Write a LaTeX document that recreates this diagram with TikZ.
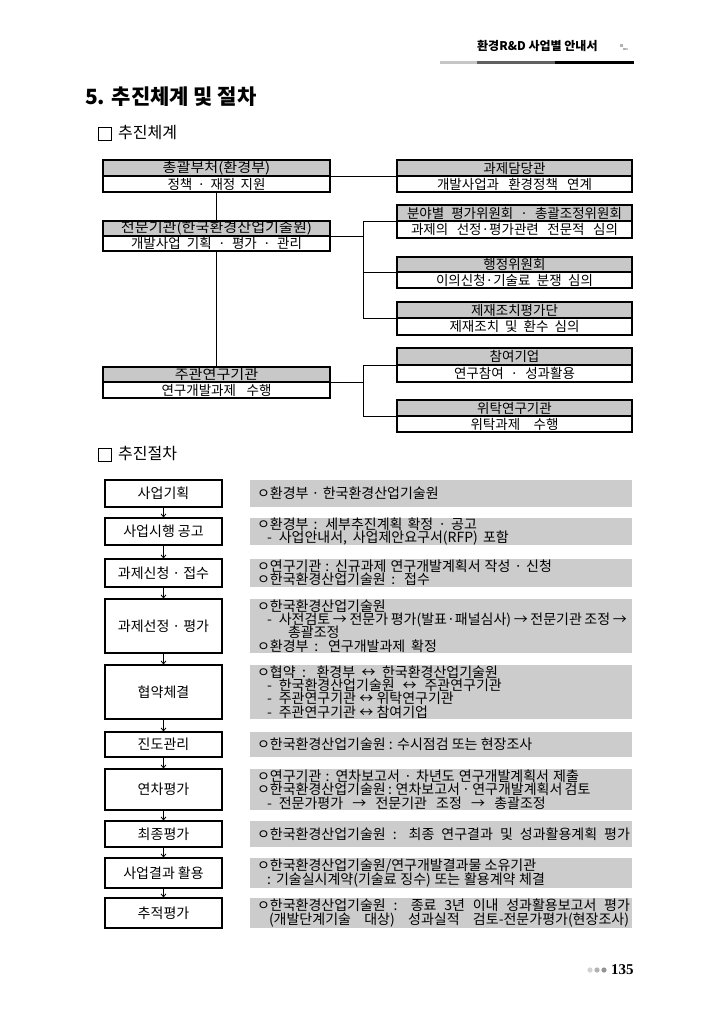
\documentclass[tikz,border=0pt]{standalone}
\usepackage{fontspec}
\usepackage{graphicx}
\setmainfont{Noto Sans CJK KR}
\newfontfamily\kr{Noto Sans CJK KR}
\newfontfamily\pnumfont{Liberation Serif}
\usetikzlibrary{arrows.meta}
\definecolor{boxgray}{RGB}{200,200,200}
\definecolor{procgray}{RGB}{204,204,204}
\newcommand\myd{\hspace*{10pt}-\hspace{7pt}}
\newcommand\fitto[2]{\makebox[#1pt][s]{#2}}
\newcommand\wider[1]{\scalebox{1.12}[1]{#1}}
\newcommand\orgfnt{\kr\fontsize{13.5}{14}\selectfont\spaceskip 3.1pt plus 30pt minus 1pt\relax}
\newcommand\procfnt{\kr\fontsize{14}{15}\selectfont\spaceskip 3pt\relax}
\newcommand\infofnt{\kr\fontsize{14}{13.3}\selectfont\spaceskip 3.2pt plus 30pt minus 1pt\relax\lineskiplimit -8pt\relax}
\tikzset{
  orgtop/.style={draw, line width=1.1pt, fill=boxgray, inner sep=0pt, font=\orgfnt},
  orgbot/.style={draw, line width=1.1pt, fill=white, inner sep=0pt, font=\orgfnt},
  lw/.style={minimum width=227},
  rw/.style={minimum width=235},
  link/.style={line width=0.9pt},
  procbox/.style={draw, line width=1.1pt, fill=white, minimum width=117, inner sep=0pt, font=\procfnt},
  infobox/.style={fill=procgray, minimum width=382, inner sep=0pt},
  infotext/.style={anchor=west, align=left, inner sep=0pt, font=\infofnt},
  flow/.style={line width=0.8pt, -{Straight Barb[length=3pt,width=5pt]}},
  sechead/.style={anchor=west, inner sep=0pt, font=\kr\fontsize{16}{18}\selectfont},
  secbox/.style={draw, line width=0.8pt, minimum size=13, inner sep=0pt},
}
\begin{document}
\begin{tikzpicture}[x=1pt,y=-1pt]
\useasboundingbox[fill=white] (0,0) rectangle (720,1017);

% header
\node[anchor=west, inner sep=0pt, font=\bfseries\fontsize{12}{14}\selectfont] (hdr) at (477,46) {환경R\&D 사업별 안내서};
\fill[gray!60] (620,44) rectangle (622.5,46.5);
\fill[gray!60] (623,47.5) rectangle (625.5,50);
\fill[gray!40] (626,47.5) rectangle (628,50);
\fill[gray!45] (440,60.5) rectangle (477,64);
\fill[gray!75!black] (477,60.5) rectangle (555,64);
\fill[black] (555,60.5) rectangle (634,64);

% title
\node[anchor=west, inner sep=0pt, font=\bfseries\fontsize{21}{25}\selectfont] (title) at (85,97) {5. 추진체계 및 절차};

% section 1
\node[secbox] (sq1) at (104.5,133.5) {};
\node[sechead] (s1) at (118,133) {추진체계};

% org chart: left column
\node[orgtop, lw, minimum height=16] (a1) at (216.5,168) {\wider{총괄부처(환경부)}};
\node[orgbot, lw, minimum height=16] (a2) at (216.5,184) {\fitto{98}{정책 · 재정 지원}};
\node[orgtop, lw, minimum height=15] (b1) at (216.5,228.5) {\wider{전문기관(한국환경산업기술원)}};
\node[orgbot, lw, minimum height=15] (b2) at (216.5,243.5) {\fitto{171}{개발사업 기획 · 평가 · 관리}};
\node[orgtop, lw, minimum height=15] (c1) at (216.5,374.5) {\wider{주관연구기관}};
\node[orgbot, lw, minimum height=16] (c2) at (216.5,390) {\fitto{110}{연구개발과제 수행}};

% org chart: right column
\node[orgtop, rw, minimum height=16] (r11) at (514.5,168) {과제담당관};
\node[orgbot, rw, minimum height=16] (r12) at (514.5,184) {\fitto{155}{개발사업과 환경정책 연계}};
\node[orgtop, rw, minimum height=16] (r21) at (514.5,213) {\fitto{215}{분야별 평가위원회 · 총괄조정위원회}};
\node[orgbot, rw, minimum height=17] (r22) at (514.5,229.5) {\fitto{207}{과제의 선정·평가관련 전문적 심의}};
\node[orgtop, rw, minimum height=15] (r31) at (514.5,264.5) {행정위원회};
\node[orgbot, rw, minimum height=16] (r32) at (514.5,280) {\fitto{157}{이의신청·기술료 분쟁 심의}};
\node[orgtop, rw, minimum height=16] (r41) at (514.5,310) {제재조치평가단};
\node[orgbot, rw, minimum height=17] (r42) at (514.5,326.5) {\fitto{130}{제재조치 및 환수 심의}};
\node[orgtop, rw, minimum height=17] (r51) at (514.5,356.5) {참여기업};
\node[orgbot, rw, minimum height=17] (r52) at (514.5,373.5) {\fitto{121}{연구참여 · 성과활용}};
\node[orgtop, rw, minimum height=16] (r61) at (514.5,408) {위탁연구기관};
\node[orgbot, rw, minimum height=16] (r62) at (514.5,424) {\fitto{88}{위탁과제 수행}};

% org connectors
\coordinate (bus) at (363,0);
\draw[link] (a1.south east) -- (r11.south west);
\draw[link] (a2.south) -- (b1.north);
\draw[link] (b2.south) -- (c1.north);
\draw[link] (b1.south east) -- (bus |- b1.south east);
\draw[link] (r21.south west) -- (bus |- r21.south west) -- (bus |- r41.south west) -- (r41.south west);
\draw[link] (r31.south west) -- (bus |- r31.south west);
\draw[link] (c1.south east) -- (bus |- c1.south east);
\draw[link] (r51.south west) -- (bus |- r51.south west) -- (bus |- r61.south west) -- (r61.south west);

% section 2
\node[secbox] (sq2) at (104.5,454.5) {};
\node[sechead] (s2) at (118,454) {추진절차};

% procedure steps
\node[procbox, minimum height=27] (p1) at (163.5,493.5) {사업기획};
\node[procbox, minimum height=27] (p2) at (163.5,531.5) {사업시행 공고};
\node[procbox, minimum height=28] (p3) at (163.5,573) {과제신청 · 접수};
\node[procbox, minimum height=54] (p4) at (163.5,626) {과제선정 · 평가};
\node[procbox, minimum height=54] (p5) at (163.5,692) {협약체결};
\node[procbox, minimum height=25] (p6) at (163.5,744.5) {진도관리};
\node[procbox, minimum height=41] (p7) at (163.5,789.5) {연차평가};
\node[procbox, minimum height=26] (p8) at (163.5,834) {최종평가};
\node[procbox, minimum height=30] (p9) at (163.5,873) {사업결과 활용};
\node[procbox, minimum height=30] (p10) at (163.5,913) {추적평가};

\foreach \i/\j in {1/2,2/3,3/4,4/5,5/6,6/7,7/8,8/9,9/10}
  \draw[flow] (p\i.south) -- (p\j.north);

% info boxes
\node[infobox, minimum height=27] (g1) at (441,493.5) {};
\node[infobox, minimum height=27] (g2) at (441,531.5) {};
\node[infobox, minimum height=28] (g3) at (441,573) {};
\node[infobox, minimum height=54] (g4) at (441,626) {};
\node[infobox, minimum height=54] (g5) at (441,692) {};
\node[infobox, minimum height=25] (g6) at (441,744.5) {};
\node[infobox, minimum height=41] (g7) at (441,789.5) {};
\node[infobox, minimum height=26] (g8) at (441,834) {};
\node[infobox, minimum height=30] (g9) at (441,873) {};
\node[infobox, minimum height=30] (g10) at (441,913) {};

\node[infotext] (t1) at ([xshift=7pt]g1.west) {ㅇ환경부 · 한국환경산업기술원};
\node[infotext] (t2) at ([xshift=7pt]g2.west) {\fitto{220}{ㅇ환경부 : 세부추진계획 확정 · 공고}\\\myd\fitto{230}{사업안내서, 사업제안요구서(RFP) 포함}};
\node[infotext] (t3) at ([xshift=7pt]g3.west) {\fitto{295}{ㅇ연구기관 : 신규과제 연구개발계획서 작성 · 신청}\\\fitto{173}{ㅇ한국환경산업기술원 : 접수}};
\node[infotext] (t4) at ([xshift=7pt]g4.west) {ㅇ한국환경산업기술원\\\myd\fitto{348}{사전검토 → 전문가 평가(발표·패널심사) → 전문기관 조정 →}\\\hspace*{31pt}총괄조정\\\fitto{180}{ㅇ환경부 : 연구개발과제 확정}};
\node[infotext] (t5) at ([xshift=7pt]g5.west) {\fitto{241}{ㅇ협약 : 환경부 ↔ 한국환경산업기술원}\\\myd\fitto{223}{한국환경산업기술원 ↔ 주관연구기관}\\\myd 주관연구기관 ↔ 위탁연구기관\\\myd 주관연구기관 ↔ 참여기업};
\node[infotext] (t6) at ([xshift=7pt]g6.west) {ㅇ한국환경산업기술원 : 수시점검 또는 현장조사};
\node[infotext] (t7) at ([xshift=7pt]g7.west) {\fitto{322}{ㅇ연구기관 : 연차보고서 · 차년도 연구개발계획서 제출}\\\fitto{331}{ㅇ한국환경산업기술원 : 연차보고서 · 연구개발계획서 검토}\\\myd\fitto{267}{전문가평가 → 전문기관 조정 → 총괄조정}};
\node[infotext] (t8) at ([xshift=7pt]g8.west) {\fitto{373}{ㅇ한국환경산업기술원 : 최종 연구결과 및 성과활용계획 평가}};
\node[infotext] (t9) at ([xshift=7pt]g9.west) {ㅇ한국환경산업기술원/연구개발결과물 소유기관\\\hspace*{10pt}\fitto{278}{: 기술실시계약(기술료 징수) 또는 활용계약 체결}};
\node[infotext] (t10) at ([xshift=7pt]g10.west) {\fitto{373}{ㅇ한국환경산업기술원 : 종료 3년 이내 성과활용보고서 평가}\\\hspace*{12pt}\fitto{360}{(개발단계기술 대상) 성과실적 검토-전문가평가(현장조사)}};

% footer
\fill[gray!35] (590,970) circle (2.6);
\fill[gray!60] (597,970) circle (2.6);
\fill[gray!85] (604,970) circle (2.6);
\node[anchor=west, inner sep=0pt, font=\pnumfont\bfseries\fontsize{15}{17}\selectfont] (pg) at (611,970) {135};
\end{tikzpicture}
\end{document}
